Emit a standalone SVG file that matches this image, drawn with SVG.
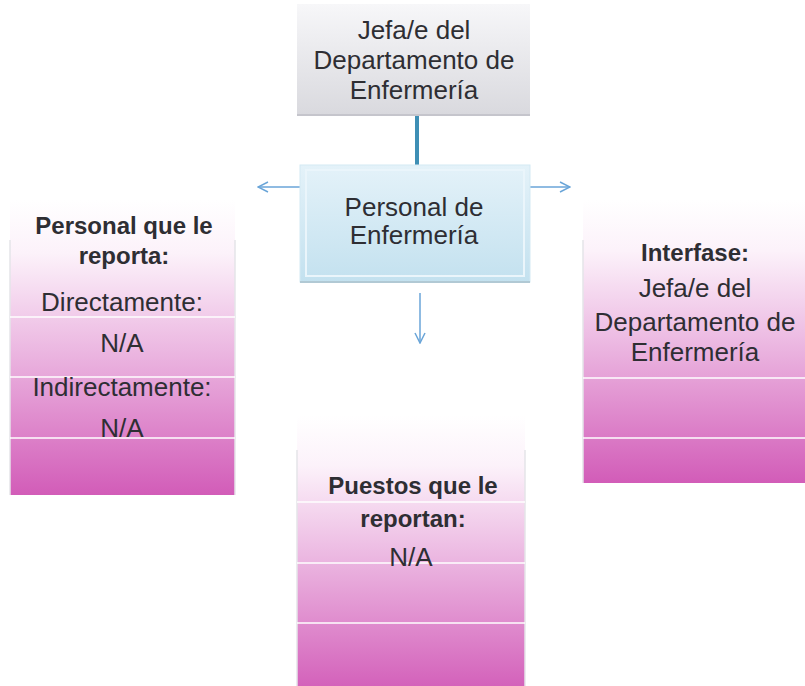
<svg xmlns="http://www.w3.org/2000/svg" width="805" height="686" viewBox="0 0 805 686">
<style>
.t{font-family:"Liberation Sans",Arial,sans-serif;font-size:26px;fill:#2e2e33;text-anchor:middle}
.b{font-weight:bold;font-size:24px}
.sep{stroke:#ffffff;stroke-width:2;opacity:0.75}
.edge{stroke:#e4e4e8;stroke-width:1.5}
.arr{stroke:#6aa5d8;stroke-width:1.5;fill:none}
</style>
<defs>
<linearGradient id="pink" x1="0" y1="0" x2="0" y2="1">
<stop offset="0" stop-color="#ffffff"/>
<stop offset="0.18" stop-color="#fcf2fa"/>
<stop offset="0.5" stop-color="#ecb9e2"/>
<stop offset="1" stop-color="#d25cb8"/>
</linearGradient>
<linearGradient id="gray" x1="0" y1="0" x2="0" y2="1">
<stop offset="0" stop-color="#f7f7f9"/>
<stop offset="1" stop-color="#d9d9de"/>
</linearGradient>
<linearGradient id="blue" x1="0" y1="0" x2="0" y2="1">
<stop offset="0" stop-color="#e4f2f9"/>
<stop offset="1" stop-color="#c3e1ef"/>
</linearGradient>
<marker id="ah" viewBox="0 0 12 12" refX="11" refY="6" markerWidth="12" markerHeight="12" markerUnits="userSpaceOnUse" orient="auto">
<path d="M1,1 L11,6 L1,11" fill="none" stroke="#6aa5d8" stroke-width="1.5"/>
</marker>
</defs>

<g id="connectors">
<line x1="417" y1="115" x2="417" y2="165" stroke="#3e8fb5" stroke-width="4"/>
<line class="arr" x1="300" y1="187" x2="258" y2="187" marker-end="url(#ah)"/>
<line class="arr" x1="530" y1="187" x2="570" y2="187" marker-end="url(#ah)"/>
<line class="arr" x1="420" y1="293" x2="420" y2="343" marker-end="url(#ah)"/>
</g>

<g id="jefa">
<rect x="297" y="4" width="233" height="111" fill="url(#gray)"/>
<line x1="297" y1="115" x2="530" y2="115" stroke="#c5c5cc" stroke-width="2"/>
<text class="t" x="414" y="39">Jefa/e del</text>
<text class="t" x="414" y="69">Departamento de</text>
<text class="t" x="414" y="99">Enfermería</text>
</g>

<g id="personal">
<rect x="300" y="165" width="230" height="117" fill="url(#blue)" stroke="#d3e9f3" stroke-width="1"/>
<rect x="306" y="170" width="218" height="106" fill="none" stroke="#eaf5fb" stroke-width="2"/>
<line x1="300" y1="282" x2="530" y2="282" stroke="#b1c9d4" stroke-width="2"/>
<text class="t" x="414" y="216">Personal de</text>
<text class="t" x="414" y="244">Enfermería</text>
</g>

<g id="reporta">
<rect x="10" y="200" width="225" height="295" fill="url(#pink)"/>
<line class="edge" x1="10" y1="240" x2="10" y2="495"/>
<line class="edge" x1="235" y1="240" x2="235" y2="495"/>
<line class="sep" x1="10" y1="317" x2="235" y2="317"/>
<line class="sep" x1="10" y1="377" x2="235" y2="377"/>
<line class="sep" x1="10" y1="438" x2="235" y2="438"/>
<text class="t b" x="124" y="234">Personal que le</text>
<text class="t b" x="124" y="264">reporta:</text>
<text class="t" x="122" y="311">Directamente:</text>
<text class="t" x="122" y="352">N/A</text>
<text class="t" x="122" y="396">Indirectamente:</text>
<text class="t" x="122" y="437">N/A</text>
</g>

<g id="interfase">
<rect x="583" y="200" width="230" height="283" fill="url(#pink)"/>
<line class="edge" x1="583" y1="240" x2="583" y2="483"/>
<line class="sep" x1="583" y1="378" x2="805" y2="378"/>
<line class="sep" x1="583" y1="438" x2="805" y2="438"/>
<text class="t b" x="695" y="261">Interfase:</text>
<text class="t" x="695" y="297">Jefa/e del</text>
<text class="t" x="695" y="331">Departamento de</text>
<text class="t" x="695" y="361">Enfermería</text>
</g>

<g id="puestos">
<rect x="297" y="415" width="228" height="280" fill="url(#pink)"/>
<line class="edge" x1="297" y1="450" x2="297" y2="686"/>
<line class="edge" x1="525" y1="450" x2="525" y2="686"/>
<line class="sep" x1="297" y1="502" x2="525" y2="502"/>
<line class="sep" x1="297" y1="563" x2="525" y2="563"/>
<line class="sep" x1="297" y1="623" x2="525" y2="623"/>
<text class="t b" x="413" y="494">Puestos que le</text>
<text class="t b" x="413" y="527">reportan:</text>
<text class="t" x="411" y="566">N/A</text>
</g>
</svg>
